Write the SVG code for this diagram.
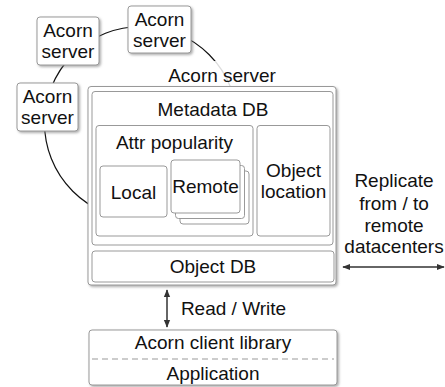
<svg xmlns="http://www.w3.org/2000/svg" width="445" height="387" viewBox="0 0 445 387">
<defs>
<filter id="sh" x="-10%" y="-10%" width="130%" height="130%">
<feDropShadow dx="1.5" dy="1.5" stdDeviation="1" flood-color="#777" flood-opacity="0.6"/>
</filter>
<marker id="ah" viewBox="0 0 10 10" refX="9" refY="5" markerWidth="8" markerHeight="8" markerUnits="userSpaceOnUse" orient="auto-start-reverse">
<path d="M0,1 L10,5 L0,9 z" fill="#333"/>
</marker>
<style>
.box{fill:#fff;stroke:#999;stroke-width:1}
.t{font-family:"Liberation Sans",Arial,Helvetica,sans-serif;font-size:19px;fill:#111;text-anchor:middle}
.con{fill:none;stroke:#111;stroke-width:1.2}
.arr{fill:none;stroke:#333;stroke-width:1.5}
</style>
</defs>
<g id="connectors">
<circle class="con" cx="141" cy="123" r="96.5"/>
<line class="arr" x1="167" y1="290" x2="167" y2="327" marker-start="url(#ah)" marker-end="url(#ah)"/>
<line class="arr" x1="343" y1="267" x2="444" y2="267" marker-start="url(#ah)" marker-end="url(#ah)"/>
</g>
<g id="server1">
<rect class="box" x="128" y="6" width="63" height="47" rx="3" filter="url(#sh)"/>
<text class="t" x="159.5" y="26">Acorn</text>
<text class="t" x="159.5" y="47">server</text>
</g>
<g id="server2">
<rect class="box" x="37" y="17" width="62" height="48" rx="3" filter="url(#sh)"/>
<text class="t" x="68" y="37">Acorn</text>
<text class="t" x="68" y="58">server</text>
</g>
<g id="server3">
<rect class="box" x="17" y="83" width="61" height="48" rx="3" filter="url(#sh)"/>
<text class="t" x="47.5" y="103">Acorn</text>
<text class="t" x="47.5" y="124">server</text>
</g>
<g id="acorn-server-label">
<rect x="166" y="61" width="112" height="25" fill="#fff" fill-opacity="0.85"/>
<text class="t" x="222" y="82">Acorn server</text>
</g>
<g id="acorn-server">
<rect class="box" x="88" y="86.5" width="248" height="198.5" rx="3" filter="url(#sh)"/>
</g>
<g id="metadata-db">
<rect class="box" x="92" y="91.5" width="241" height="153.5" rx="3"/>
<text class="t" x="213" y="116">Metadata DB</text>
</g>
<g id="attr-popularity">
<rect class="box" x="96" y="125.5" width="157" height="110.5" rx="3"/>
<text class="t" x="174.5" y="149">Attr popularity</text>
</g>
<g id="local">
<rect class="box" x="100" y="166" width="67" height="51" rx="3"/>
<text class="t" x="133.5" y="199">Local</text>
</g>
<g id="remote">
<rect class="box" x="180" y="171" width="69" height="53" rx="3"/>
<rect class="box" x="175.5" y="165.5" width="69" height="53" rx="3"/>
<rect class="box" x="171" y="160" width="69" height="53" rx="3"/>
<text class="t" x="205.5" y="193">Remote</text>
</g>
<g id="object-location">
<rect class="box" x="257" y="125.5" width="73" height="110.5" rx="3"/>
<text class="t" x="293.5" y="177">Object</text>
<text class="t" x="293.5" y="198">location</text>
</g>
<g id="object-db">
<rect class="box" x="92" y="251" width="242" height="31" rx="3"/>
<text class="t" x="213" y="273">Object DB</text>
</g>
<g id="read-write-label">
<text class="t" x="233.5" y="315">Read / Write</text>
</g>
<g id="replicate-label">
<text class="t" x="394" y="187">Replicate</text>
<text class="t" x="394" y="210">from / to</text>
<text class="t" x="394" y="232">remote</text>
<text class="t" x="394" y="253">datacenters</text>
</g>
<g id="client">
<rect class="box" x="89" y="330" width="248" height="55" rx="3" filter="url(#sh)"/>
<line x1="92" y1="359" x2="334" y2="359" stroke="#999" stroke-width="1" stroke-dasharray="6,4"/>
<text class="t" x="213" y="349">Acorn client library</text>
<text class="t" x="213" y="380">Application</text>
</g>
</svg>
